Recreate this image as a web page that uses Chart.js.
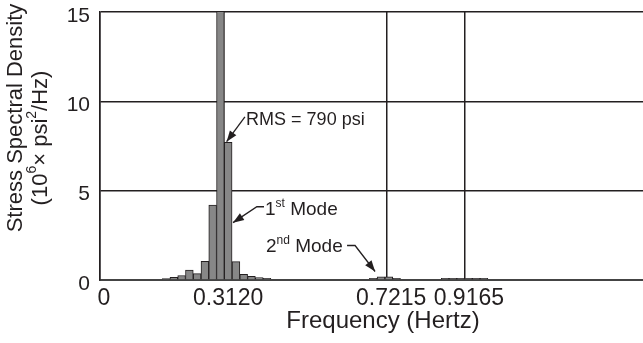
<!DOCTYPE html>
<html lang="en">
<head>
<meta charset="UTF-8">
<title>Stress Spectral Density</title>
<script src="https://cdn.jsdelivr.net/npm/chart.js"></script>
<style>
  html, body { margin: 0; padding: 0; background: #fff; }
  #wrap { position: relative; width: 643px; height: 343px; }
</style>
</head>
<body>
<div id="wrap"><canvas id="psdChart"></canvas></div>
<script>
// bin centres in Hz and the spectral density of each bin (10^6 psi^2/Hz)
const freqBins = [
  0.1660, 0.1855, 0.2050, 0.2245, 0.2440, 0.2635, 0.2830, 0.3025, 0.3220,
  0.3415, 0.3610, 0.3805, 0.4000, 0.4195,
  0.6865, 0.7060, 0.7255, 0.7450,
  0.8670, 0.8865, 0.9060, 0.9255, 0.9450, 0.9645
];
const psdValues = [
  0.08, 0.15, 0.25, 0.56, 0.36, 1.05, 4.2, 20, 7.7,
  1.03, 0.32, 0.2, 0.14, 0.1,
  0.1, 0.18, 0.18, 0.1,
  0.1, 0.1, 0.1, 0.1, 0.1, 0.1
];
const xTickValues = [0, 0.312, 0.7215, 0.9165];
const xTickLabels = ['0', '0.3120', '0.7215', '0.9165'];
const yTickValues = [0, 5, 10, 15];

const FONT = '"Liberation Sans", Arial, Helvetica, sans-serif';
const INK = '#231f20';

// text made of runs: [string, isSuperscript]
function runsWidth(ctx, runs, size) {
  let w = 0;
  runs.forEach(([t, sup]) => {
    ctx.font = (sup ? Math.round(size * 0.62) : size) + 'px ' + FONT;
    w += ctx.measureText(t).width;
  });
  return w;
}
function drawRuns(ctx, runs, size, x, y) {
  let cx = x;
  runs.forEach(([t, sup]) => {
    ctx.font = (sup ? Math.round(size * 0.62) : size) + 'px ' + FONT;
    ctx.fillText(t, cx, sup ? y - size * 0.38 : y);
    cx += ctx.measureText(t).width;
  });
}

// labels with leader arrows, placed in data units
const callouts = [
  { runs: [['RMS = 790 psi', false]], size: 18, at: [0.367, 8.7],
    path: [[0.364, 9.13], [0.318, 7.74]] },
  { runs: [['1', false], ['st', true], [' Mode', false]], size: 19, at: [0.4146, 3.66],
    path: [[0.412, 4.1], [0.394, 4.1], [0.334, 3.21]] },
  { runs: [['2', false], ['nd', true], [' Mode', false]], size: 19, at: [0.417, 1.59],
    path: [[0.6206, 1.93], [0.6407, 1.93], [0.691, 0.475]] }
];

const yTitleLines = [
  [['Stress Spectral Density', false]],
  [['(10', false], ['6', true], ['\u00d7 psi', false], ['2', true], ['/Hz)', false]]
];
const xTitle = 'Frequency (Hertz)';

const labelPlugin = {
  id: 'labels',
  afterDraw(chart) {
    const ctx = chart.ctx;
    const xs = chart.scales.x, ys = chart.scales.y;
    const area = chart.chartArea;
    ctx.save();
    ctx.fillStyle = INK;
    ctx.strokeStyle = INK;

    // x axis title
    ctx.textAlign = 'center';
    ctx.textBaseline = 'alphabetic';
    ctx.font = '24px ' + FONT;
    ctx.fillText(xTitle, area.left + 283, area.bottom + 48);

    // y axis title, two rotated lines
    ctx.textAlign = 'left';
    ctx.textBaseline = 'middle';
    [[area.left - 84, area.top + 106], [area.left - 59, area.top + 126]].forEach(([cx, cy], i) => {
      ctx.save();
      ctx.translate(cx, cy);
      ctx.rotate(-Math.PI / 2);
      const w = runsWidth(ctx, yTitleLines[i], 22);
      drawRuns(ctx, yTitleLines[i], 22, -w / 2, 0);
      ctx.restore();
    });

    ctx.textBaseline = 'alphabetic';
    callouts.forEach(c => {
      drawRuns(ctx, c.runs, c.size, xs.getPixelForValue(c.at[0]), ys.getPixelForValue(c.at[1]));
      const pts = c.path.map(p => [xs.getPixelForValue(p[0]), ys.getPixelForValue(p[1])]);
      ctx.lineWidth = 1.3;
      ctx.beginPath();
      ctx.moveTo(pts[0][0], pts[0][1]);
      for (let i = 1; i < pts.length; i++) ctx.lineTo(pts[i][0], pts[i][1]);
      ctx.stroke();
      // arrow head
      const [x1, y1] = pts[pts.length - 2];
      const [x2, y2] = pts[pts.length - 1];
      const a = Math.atan2(y2 - y1, x2 - x1);
      const len = 11, half = 4;
      ctx.beginPath();
      ctx.moveTo(x2, y2);
      ctx.lineTo(x2 - len * Math.cos(a) + half * Math.sin(a), y2 - len * Math.sin(a) - half * Math.cos(a));
      ctx.lineTo(x2 - len * Math.cos(a) - half * Math.sin(a), y2 - len * Math.sin(a) + half * Math.cos(a));
      ctx.closePath();
      ctx.fill();
    });
    ctx.restore();
  }
};

new Chart(document.getElementById('psdChart'), {
  type: 'bar',
  data: {
    datasets: [{
      data: freqBins.map((f, i) => ({ x: f, y: psdValues[i] })),
      backgroundColor: '#878787',
      borderColor: INK,
      borderWidth: 1,
      barPercentage: 1,
      categoryPercentage: 1
    }]
  },
  options: {
    responsive: true,
    maintainAspectRatio: false,
    animation: false,
    events: [],
    layout: { padding: { top: 12, right: 0, bottom: 0, left: 0 } },
    plugins: { legend: { display: false }, tooltip: { enabled: false } },
    scales: {
      x: {
        type: 'linear',
        min: 0,
        max: 1.364,
        offset: false,
        z: 1,
        afterBuildTicks: s => { s.ticks = xTickValues.map(v => ({ value: v })); },
        afterFit: s => { s.height = 63; s.paddingLeft = 0; s.paddingRight = 0; },
        grid: { offset: false, color: INK, lineWidth: 1.5, drawTicks: false },
        border: { color: '#444', width: 2 },
        ticks: {
          autoSkip: false, maxRotation: 0, padding: 5, color: INK, labelOffset: 4,
          font: { family: FONT, size: 23 },
          callback: (v, i) => xTickLabels[i]
        }
      },
      y: {
        min: 0,
        max: 15,
        z: 1,
        afterBuildTicks: s => { s.ticks = yTickValues.map(v => ({ value: v })); },
        afterFit: s => { s.width = 100; s.paddingTop = 0; s.paddingBottom = 0; },
        grid: { color: INK, lineWidth: 1.5, drawTicks: false },
        border: { color: INK, width: 1.5 },
        ticks: {
          padding: 10, color: INK, labelOffset: 4,
          font: { family: FONT, size: 21 }
        }
      }
    }
  },
  plugins: [labelPlugin]
});
</script>
</body>
</html>
